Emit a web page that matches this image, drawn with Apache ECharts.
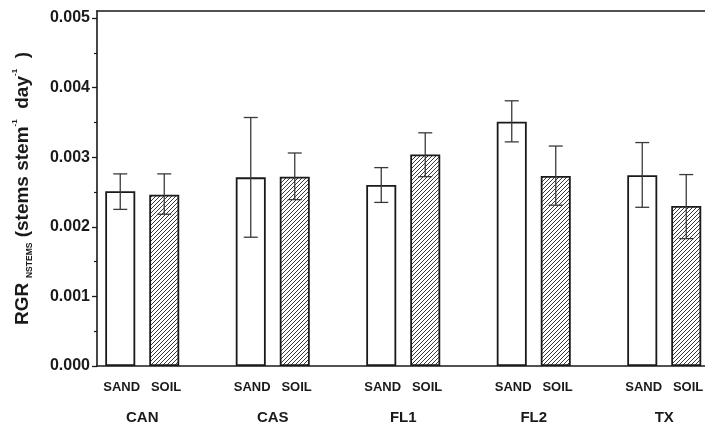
<!DOCTYPE html>
<html>
<head>
<meta charset="utf-8">
<script src="https://cdn.jsdelivr.net/npm/echarts@6/dist/echarts.min.js"></script>
<style>
html,body{margin:0;padding:0;background:#fff;}
#chart{width:705px;height:424px;}
</style>
</head>
<body>
<div id="chart"></div>
<script>
const categories = ['CAN', 'CAS', 'FL1', 'FL2', 'TX'];
const treatments = ['SAND', 'SOIL'];
const sandMean = [0.00251, 0.00271, 0.00260, 0.00351, 0.00274];
const sandHigh = [0.00276, 0.00357, 0.00285, 0.00381, 0.00321];
const sandLow  = [0.00225, 0.00185, 0.00235, 0.00322, 0.00228];
const soilMean = [0.00246, 0.00272, 0.00304, 0.00273, 0.00230];
const soilHigh = [0.00276, 0.00306, 0.00335, 0.00316, 0.00275];
const soilLow  = [0.00218, 0.00239, 0.00272, 0.00231, 0.00183];
const yTicks = [0, 0.001, 0.002, 0.003, 0.004, 0.005];
const yMinorTicks = [0.0005, 0.0015, 0.0025, 0.0035, 0.0045];

const FONT = 'Liberation Sans, Arial, Helvetica, sans-serif';
const BAR_W = 30, BAR_GAP = 14;
const OFFSET = (BAR_W + BAR_GAP) / 2;
const Y_MAX = 0.0051;

// hatch pattern
const pc = document.createElement('canvas');
pc.width = 4; pc.height = 4;
const g = pc.getContext('2d');
g.fillStyle = '#ffffff'; g.fillRect(0, 0, 4, 4);
g.strokeStyle = '#3a3a3a'; g.lineWidth = 1;
g.beginPath();
g.moveTo(-1, 5); g.lineTo(5, -1);
g.moveTo(-1, 1); g.lineTo(1, -1);
g.moveTo(3, 5); g.lineTo(5, 3);
g.stroke();

function errorItem(offset) {
  return function (params, api) {
    const hi = api.coord([api.value(0), api.value(2)]);
    const lo = api.coord([api.value(0), api.value(1)]);
    const x = hi[0] + offset;
    const st = { stroke: '#3a3a3a', lineWidth: 1.3 };
    return {
      type: 'group',
      children: [
        { type: 'line', shape: { x1: x, y1: hi[1], x2: x, y2: lo[1] }, style: st },
        { type: 'line', shape: { x1: x - 7, y1: hi[1], x2: x + 7, y2: hi[1] }, style: st },
        { type: 'line', shape: { x1: x - 7, y1: lo[1], x2: x + 7, y2: lo[1] }, style: st }
      ]
    };
  };
}

const chart = echarts.init(document.getElementById('chart'), null, { renderer: 'canvas' });
const option = {
  animation: false,
  backgroundColor: '#ffffff',
  textStyle: { fontFamily: FONT },
  grid: [
    { left: 77, width: 652.5, top: 11, bottom: 58, outerBoundsMode: 'none', containLabel: false },
    { left: 97, right: 0, top: 11, bottom: 58, outerBoundsMode: 'none', containLabel: false }
  ],
  xAxis: [
    {
      type: 'category', gridIndex: 0, data: categories,
      axisLine: { show: false }, axisTick: { show: false },
      axisLabel: {
        margin: 11, interval: 0,
        formatter: v => '{s|' + treatments.join('   ') + '}\n{g|' + v + '}',
        rich: {
          s: { fontSize: 13, fontWeight: 'bold', color: '#1a1a1a', lineHeight: 20, fontFamily: FONT },
          g: { fontSize: 15, fontWeight: 'bold', color: '#1a1a1a', lineHeight: 41, fontFamily: FONT }
        }
      }
    },
    {
      type: 'value', gridIndex: 1, position: 'bottom', min: 0, max: 1,
      axisLine: { show: true, onZero: false, lineStyle: { color: '#1a1a1a', width: 1.6 } },
      axisTick: { show: false }, axisLabel: { show: false }, splitLine: { show: false }
    },
    {
      type: 'value', gridIndex: 1, position: 'top', min: 0, max: 1,
      axisLine: { show: true, onZero: false, lineStyle: { color: '#1a1a1a', width: 1.6 } },
      axisTick: { show: false }, axisLabel: { show: false }, splitLine: { show: false }
    }
  ],
  yAxis: [
    {
      type: 'value', gridIndex: 1, min: 0, max: Y_MAX, position: 'left',
      axisLine: { show: true, onZero: false, lineStyle: { color: '#1a1a1a', width: 1.6 } },
      axisTick: { show: true, customValues: yTicks, length: 5, lineStyle: { color: '#1a1a1a', width: 1.3 } },
      axisLabel: {
        customValues: yTicks, margin: 7,
        formatter: v => Number(v).toFixed(3),
        fontSize: 16, fontWeight: 'bold', color: '#1a1a1a', fontFamily: FONT
      },
      splitLine: { show: false },
      name: '{m|RGR}{sub|  NSTEMS}{m| (stems stem}{sup|-1}{m|  day}{sup|-1}{m|  )}',
      nameLocation: 'middle', nameRotate: 90, nameGap: 63,
      nameTextStyle: {
        rich: {
          m: { fontSize: 19, fontWeight: 'bold', color: '#1a1a1a', fontFamily: FONT, lineHeight: 23 },
          sub: { fontSize: 8.5, fontWeight: 'bold', color: '#1a1a1a', fontFamily: FONT, verticalAlign: 'bottom', lineHeight: 23 },
          sup: { fontSize: 8, fontWeight: 'bold', color: '#1a1a1a', fontFamily: FONT, verticalAlign: 'top', lineHeight: 23 }
        }
      }
    },
    {
      type: 'value', gridIndex: 1, min: 0, max: Y_MAX, position: 'left',
      axisLine: { show: false },
      axisTick: { show: true, customValues: yMinorTicks, length: 3, lineStyle: { color: '#1a1a1a', width: 1.2 } },
      axisLabel: { show: false }, splitLine: { show: false }
    },
    {
      type: 'value', gridIndex: 0, min: 0, max: Y_MAX, show: false, splitLine: { show: false }
    }
  ],
  series: [
    {
      name: treatments[0], type: 'bar', xAxisIndex: 0, yAxisIndex: 2,
      data: sandMean, barWidth: BAR_W, barGap: (BAR_GAP / BAR_W * 100) + '%',
      itemStyle: { color: '#ffffff', borderColor: '#1a1a1a', borderWidth: 1.8 }
    },
    {
      name: treatments[1], type: 'bar', xAxisIndex: 0, yAxisIndex: 2,
      data: soilMean, barWidth: BAR_W,
      itemStyle: { color: { image: pc, repeat: 'repeat' }, borderColor: '#1a1a1a', borderWidth: 1.8 }
    },
    {
      type: 'custom', xAxisIndex: 0, yAxisIndex: 2, z: 5,
      renderItem: errorItem(-OFFSET),
      encode: { x: 0, y: [1, 2] },
      data: categories.map((c, i) => [i, sandLow[i], sandHigh[i]])
    },
    {
      type: 'custom', xAxisIndex: 0, yAxisIndex: 2, z: 5,
      renderItem: errorItem(OFFSET),
      encode: { x: 0, y: [1, 2] },
      data: categories.map((c, i) => [i, soilLow[i], soilHigh[i]])
    }
  ]
};
chart.setOption(option);
</script>
</body>
</html>
